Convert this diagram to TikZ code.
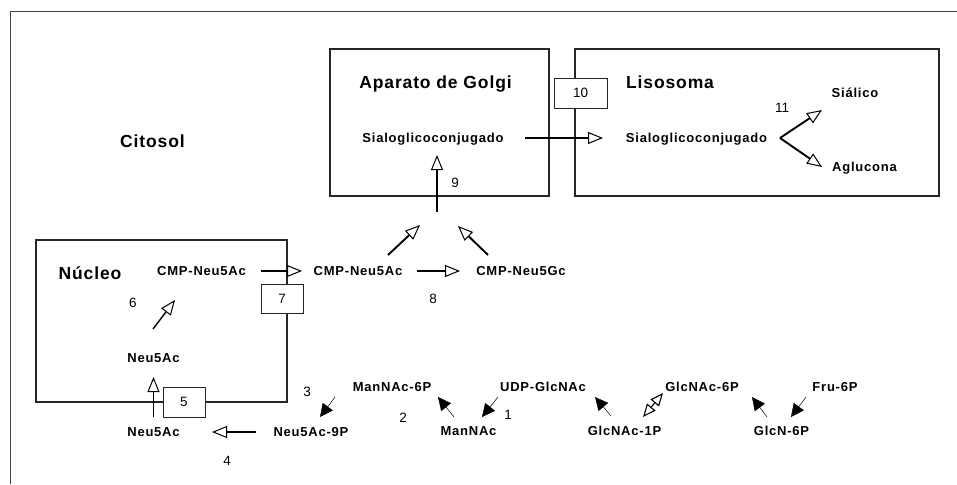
\documentclass[tikz,border=0pt]{standalone}
\usepackage{fontspec}
\setmainfont{Liberation Sans}
\newfontfamily\molfont[LetterSpace=6]{Liberation Sans}
\newfontfamily\ttlfont[LetterSpace=5]{Liberation Sans}
\usetikzlibrary{arrows.meta}

\begin{document}
\begin{tikzpicture}[x=1pt,y=-1pt,
    mol/.style={font=\molfont\bfseries\fontsize{13}{15}\selectfont,inner sep=0pt,text height=9.3pt,text depth=0pt},
    ttl/.style={font=\ttlfont\bfseries\fontsize{17.5}{20}\selectfont,inner sep=0pt,text height=12.6pt,text depth=0pt},
    num/.style={font=\fontsize{13.5}{16}\selectfont,inner sep=0pt,text height=9.7pt,text depth=0pt},
    tag/.style={num,draw=black!85,fill=white,line width=0.8pt,minimum width=42pt,minimum height=30pt},
    comp/.style={draw=black!85,line width=1.3pt},
    oarr/.style={-{Triangle[open,length=15pt,width=12pt,line width=1pt]},line width=1.9pt},
    othin/.style={oarr,line width=1.4pt},
    farr/.style={-{Triangle[length=13pt,width=12.5pt]},line width=0.5pt}]
  \useasboundingbox (0,0) rectangle (957,484);
  \draw[black!75,line width=1pt] (10,484) -- (10,12) -- (957,12);

  % compartments
  \draw[comp] (330,49) rectangle (549,196);
  \draw[comp] (575,49) rectangle (939,196);
  \draw[comp] (36,240) rectangle (287,402);
  \node[ttl] (golgi) at (435.5,82.5) {Aparato de Golgi};
  \node[ttl] (lys) at (670,82) {Lisosoma};
  \node[ttl] (cito) at (152.5,141.5) {Citosol};
  \node[ttl] (nuc) at (90,273) {Núcleo};

  % metabolites
  \node[mol] (sgG) at (433,138) {Sialoglicoconjugado};
  \node[mol] (sgL) at (696.5,138) {Sialoglicoconjugado};
  \node[mol] (sial) at (855,93) {Siálico};
  \node[mol] (aglu) at (864.5,167) {Aglucona};
  \node[mol] (cmpN) at (201.5,271) {CMP-Neu5Ac};
  \node[mol] (cmpC) at (358,271) {CMP-Neu5Ac};
  \node[mol] (cmpGc) at (521,271) {CMP-Neu5Gc};
  \node[mol] (neuN) at (153.5,358) {Neu5Ac};
  \node[mol] (neuC) at (153.5,432) {Neu5Ac};
  \node[mol] (neu9p) at (311,432) {Neu5Ac-9P};
  \node[mol] (man6p) at (392,387) {ManNAc-6P};
  \node[mol] (mannac) at (468.5,431) {ManNAc};
  \node[mol] (udp) at (543,387) {UDP-GlcNAc};
  \node[mol] (glc1p) at (624.5,431) {GlcNAc-1P};
  \node[mol] (glc6p) at (702,387) {GlcNAc-6P};
  \node[mol] (glcn6p) at (781.5,431) {GlcN-6P};
  \node[mol] (fru6p) at (835,387) {Fru-6P};
  \coordinate (meet) at (437,212);
  \coordinate (split) at ([shift={(83.5,0)}]sgL.center);

  % steps
  \node[num] (n1) at (508,415) {1};
  \node[num] (n2) at (403,418) {2};
  \node[num] (n3) at (307,392) {3};
  \node[num] (n4) at (227,461) {4};
  \node[num] (n6) at (133,303) {6};
  \node[num] (n8) at (433,299) {8};
  \node[num] (n9) at (455,183) {9};
  \node[num] (n11) at (782,108) {11};

  % connectors
  \draw[othin] ([shift={(92,0)}]sgG.center) -- ([shift={(-93.5,0)}]sgL.center);
  \draw[oarr] (split) -- ([shift={(-33,17)}]sial.center);
  \draw[oarr] (split) -- ([shift={(-42.5,0)}]aglu.center);
  \draw[oarr] (meet) -- ([shift={(4,17)}]sgG.center);
  \draw[oarr] ([shift={(30,-16)}]cmpC.center) -- ([shift={(-17,13)}]meet);
  \draw[oarr] ([shift={(-33,-16)}]cmpGc.center) -- ([shift={(21,14)}]meet);
  \draw[othin] ([shift={(59.5,0)}]cmpN.center) -- ([shift={(-56,0)}]cmpC.center);
  \draw[othin] ([shift={(59,0)}]cmpC.center) -- ([shift={(-61,0)}]cmpGc.center);
  \draw[othin] ([shift={(-0.5,-29)}]neuN.center) -- ([shift={(-26.5,29)}]cmpN.center);
  \draw[oarr] ([shift={(0,-15)}]neuC.center) -- ([shift={(0,19)}]neuN.center);
  \draw[othin] ([shift={(-55,0)}]neu9p.center) -- ([shift={(58.5,0)}]neuC.center);
  \draw[farr] ([shift={(-57,10)}]man6p.center) -- ([shift={(9,-15)}]neu9p.center);
  \draw[farr] ([shift={(-14.5,-14)}]mannac.center) -- ([shift={(46,10)}]man6p.center);
  \draw[farr] ([shift={(-45,10)}]udp.center) -- ([shift={(13.5,-14)}]mannac.center);
  \draw[farr] ([shift={(-13.5,-15)}]glc1p.center) -- ([shift={(52,10)}]udp.center);
  \draw[{Triangle[open,length=13pt,width=11pt]}-{Triangle[open,length=13pt,width=11pt]},line width=1.1pt]
    ([shift={(18.5,-14)}]glc1p.center) -- ([shift={(-39,6)}]glc6p.center);
  \draw[farr] ([shift={(-14.5,-14)}]glcn6p.center) -- ([shift={(50,10)}]glc6p.center);
  \draw[farr] ([shift={(-29,10)}]fru6p.center) -- ([shift={(9.5,-14)}]glcn6p.center);

  % transporters
  \node[tag,minimum width=53pt] (t10) at (580.5,93) {10};
  \node[tag,minimum height=29pt] (t7) at (282,298.5) {7};
  \node[tag] (t5) at (184,402) {5};
\end{tikzpicture}
\end{document}
